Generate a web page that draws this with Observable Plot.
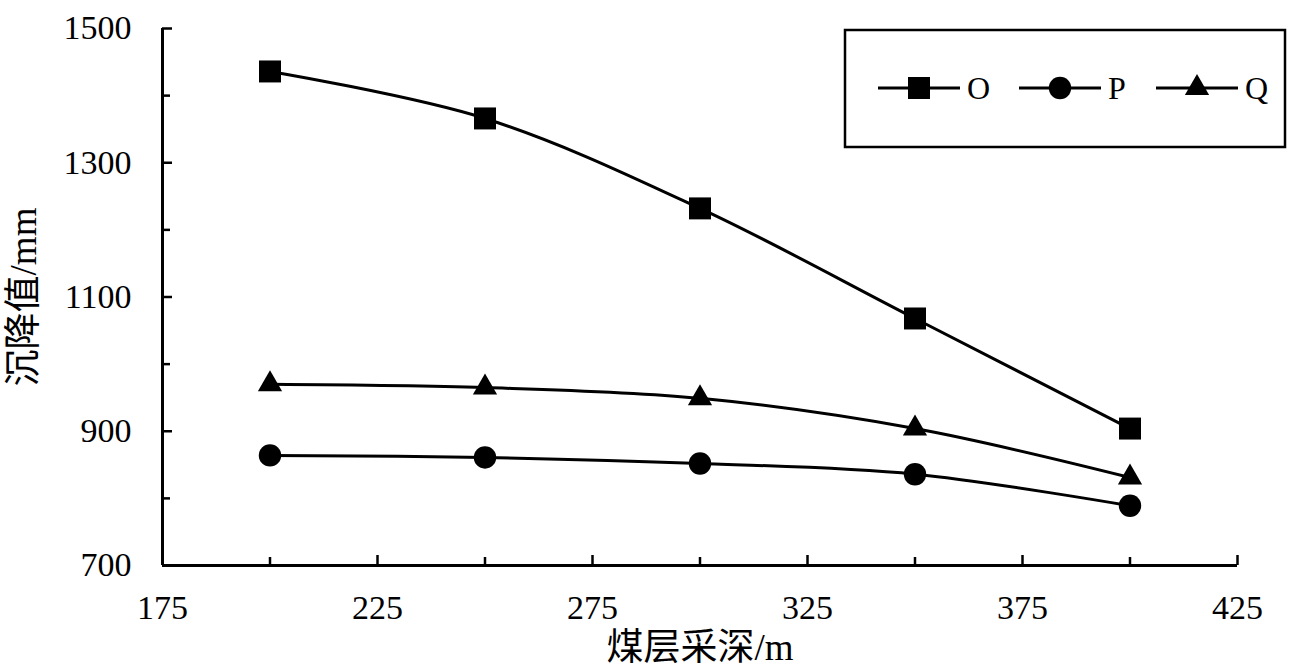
<!DOCTYPE html>
<html>
<head>
<meta charset="utf-8">
<script src="https://cdn.jsdelivr.net/npm/d3@7"></script>
<script src="https://cdn.jsdelivr.net/npm/@observablehq/plot@0.6"></script>
<style>
  html, body { margin: 0; padding: 0; background: #fff; }
  #wrap { position: relative; width: 1299px; height: 671px; }
  #legend { position: absolute; left: 0; top: 0; }
</style>
</head>
<body>
<div id="wrap"></div>
<script>
// Data
const depths = [200, 250, 300, 350, 400];
const seriesNames = ["O", "P", "Q"];
const valuesO = [1436, 1366, 1232, 1068, 904];
const valuesP = [864, 861, 852, 836, 789];
const valuesQ = [970, 965, 949, 904, 831];
const xTicks = [175, 225, 275, 325, 375, 425];
const xMinorTicks = [200, 250, 300, 350, 400];
const yTicks = [700, 900, 1100, 1300, 1500];
const yMinorTicks = [800, 1000, 1200, 1400];
const xLabel = "煤层采深/m";
const yLabel = "沉降值/mm";

const symbols = {O: "square", P: "circle", Q: "triangle"};
const radii = {O: 12.4, P: 11.2, Q: 9};
const seriesValues = {O: valuesO, P: valuesP, Q: valuesQ};
const rows = seriesNames.flatMap(s => depths.map((d, i) => ({series: s, depth: d, value: seriesValues[s][i]})));

const font = "'Liberation Serif', 'Times New Roman', 'Noto Sans CJK SC', serif";
const fmt = d3.format("d");

const chart = Plot.plot({
  width: 1299,
  height: 671,
  marginLeft: 162,
  marginRight: 62,
  marginTop: 28,
  marginBottom: 106,
  style: {fontFamily: font, fontSize: "34px", color: "#000", background: "#fff"},
  x: {domain: [175, 425]},
  y: {domain: [700, 1500]},
  marks: [
    // tick labels
    Plot.axisX({ticks: xTicks, tickSize: 0, tickPadding: 29, tickFormat: fmt, label: null, fontSize: 34}),
    Plot.axisY({ticks: yTicks, tickSize: 0, tickPadding: 31, tickFormat: fmt, label: null, fontSize: 34}),
    // axis titles
    Plot.axisX({ticks: [], tickSize: 0, label: xLabel, labelAnchor: "center", labelArrow: "none", labelOffset: 94, fontSize: 37}),
    Plot.axisY({ticks: [], tickSize: 0, label: yLabel, labelAnchor: "center", labelArrow: "none", labelOffset: 153, fontSize: 37}),
    // inward ticks
    Plot.axisX({ticks: xTicks, tickSize: -10, tickFormat: () => "", label: null, strokeWidth: 2.5}),
    Plot.axisX({ticks: xMinorTicks, tickSize: -8, tickFormat: () => "", label: null, strokeWidth: 2.5}),
    Plot.axisY({ticks: yTicks, tickSize: -10, tickFormat: () => "", label: null, strokeWidth: 2.5}),
    Plot.axisY({ticks: yMinorTicks, tickSize: -8, tickFormat: () => "", label: null, strokeWidth: 2.5}),
    // axis lines
    Plot.ruleX([175], {stroke: "#000", strokeWidth: 3}),
    Plot.ruleY([700], {stroke: "#000", strokeWidth: 3}),
    // series
    Plot.line(rows, {x: "depth", y: "value", z: "series", stroke: "#000", strokeWidth: 3, curve: "catmull-rom"}),
    ...seriesNames.map(s => Plot.dot(rows.filter(r => r.series === s), {x: "depth", y: "value", symbol: () => symbols[s], r: radii[s], fill: "#000", stroke: "none"}))
  ]
});
document.getElementById("wrap").appendChild(chart);

// Legend overlay
const svg = d3.select("#wrap").append("svg")
  .attr("id", "legend").attr("width", 1299).attr("height", 671)
  .style("font-family", font);
svg.append("rect").attr("x", 845).attr("y", 30).attr("width", 440).attr("height", 117)
  .attr("fill", "#fff").attr("stroke", "#000").attr("stroke-width", 2.5);
const legendX = [878, 1019, 1156];
const symMap = {square: d3.symbolSquare, circle: d3.symbolCircle, triangle: d3.symbolTriangle};
seriesNames.forEach((s, i) => {
  const x0 = legendX[i], y0 = 88;
  const g = svg.append("g");
  g.append("line").attr("x1", x0).attr("x2", x0 + 82).attr("y1", y0).attr("y2", y0)
    .attr("stroke", "#000").attr("stroke-width", 3);
  const r = radii[s];
  g.append("path").attr("transform", `translate(${x0 + 41},${y0})`)
    .attr("d", d3.symbol(symMap[symbols[s]], Math.PI * r * r)()).attr("fill", "#000");
  g.append("text").attr("x", x0 + 89).attr("y", y0).attr("dy", "0.35em")
    .attr("font-size", 32).text(s);
});
</script>
</body>
</html>
